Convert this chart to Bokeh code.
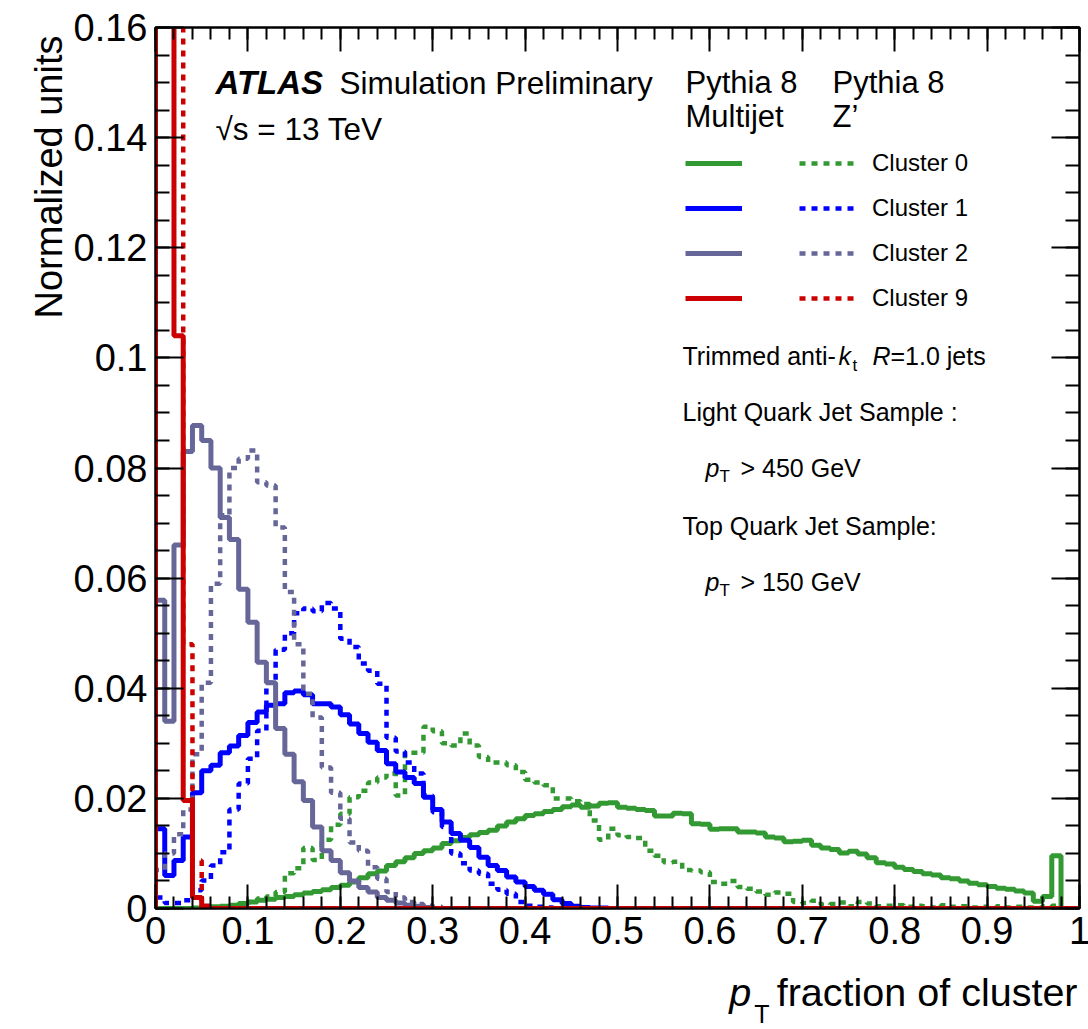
import numpy as np
from bokeh.plotting import figure
from bokeh.layouts import row, column
from bokeh.models import (Label, Legend, LegendItem, LinearAxis, FixedTicker,
                          Range1d)
from bokeh.embed import file_html
from bokeh.resources import INLINE

# 100 bins of width 0.01 in pT fraction
bin_edges = np.round(np.linspace(0.0, 1.0, 101), 4)

# Pythia 8 multijet (solid) and Z' (dotted) samples, normalized per cluster
multijet_cluster0 = [
    0, 0, 0, 0, 0.0001, 0.0002, 0.0003, 0.0004, 0.0006, 0.0009,
    0.0012, 0.0015, 0.0017, 0.0020, 0.0022, 0.0025, 0.0028, 0.0031, 0.0034, 0.0038,
    0.0042, 0.0048, 0.0056, 0.0063, 0.0068, 0.0078, 0.0085, 0.0092, 0.0100, 0.0105,
    0.0110, 0.0118, 0.0123, 0.0129, 0.0134, 0.0138, 0.0142, 0.0150, 0.0157, 0.0163,
    0.0169, 0.0172, 0.0176, 0.0180, 0.0185, 0.0188, 0.0184, 0.0186, 0.0191, 0.0192,
    0.0184, 0.0182, 0.0180, 0.0178, 0.0168, 0.0168, 0.0173, 0.0172, 0.0154, 0.0153,
    0.0144, 0.0145, 0.0145, 0.0139, 0.0139, 0.0137, 0.0130, 0.0128, 0.0121, 0.0122,
    0.0124, 0.0115, 0.0110, 0.0107, 0.0101, 0.0104, 0.0099, 0.0092, 0.0083, 0.0081,
    0.0075, 0.0071, 0.0067, 0.0063, 0.0061, 0.0056, 0.0054, 0.0050, 0.0046, 0.0043,
    0.0040, 0.0037, 0.0035, 0.0032, 0.0028, 0.0013, 0.0022, 0.0096, 0, 0,
]
zprime_cluster0 = [
    0, 0, 0, 0, 0, 0.0001, 0.0002, 0.0003, 0.0005, 0.0008,
    0.0012, 0.0018, 0.0022, 0.0030, 0.0064, 0.0073, 0.0110, 0.0088, 0.0125, 0.0152,
    0.0172, 0.0202, 0.0214, 0.0229, 0.0238, 0.0245, 0.0205, 0.0283, 0.0283, 0.0330,
    0.0322, 0.0300, 0.0296, 0.0318, 0.0296, 0.0275, 0.0265, 0.0265, 0.0260, 0.0248,
    0.0234, 0.0229, 0.0224, 0.0200, 0.0200, 0.0195, 0.0190, 0.0160, 0.0125, 0.0145,
    0.0133, 0.0130, 0.0128, 0.0105, 0.0096, 0.0084, 0.0085, 0.0070, 0.0069, 0.0066,
    0.0048, 0.0045, 0.0050, 0.0039, 0.0036, 0.0031, 0.0025, 0.0029, 0.0027, 0.0012,
    0.0010, 0.0014, 0.0007, 0.0008, 0.0011, 0.0004, 0.0012, 0.0009, 0.0004, 0.0005,
    0.0006, 0.0003, 0.0005, 0.0004, 0.0002, 0.0006, 0.0003, 0.0004, 0.0002, 0.0003,
    0.0002, 0.0004, 0.0002, 0.0003, 0.0002, 0.0002, 0.0004, 0.0005, 0, 0,
]
multijet_cluster1 = [
    0.0145, 0.0060, 0.0087, 0.0130, 0.0210, 0.0250, 0.0260, 0.0283, 0.0295, 0.0314,
    0.0338, 0.0357, 0.0369, 0.0372, 0.0392, 0.0395, 0.0388, 0.0372, 0.0372, 0.0366,
    0.0352, 0.0335, 0.0318, 0.0302, 0.0287, 0.0263, 0.0248, 0.0238, 0.0227, 0.0202,
    0.0180, 0.0157, 0.0136, 0.0124, 0.0111, 0.0093, 0.0078, 0.0069, 0.0057, 0.0048,
    0.0040, 0.0033, 0.0026, 0.0016, 0.0009, 0.0004, 0.0002, 0.0001, 0.0001, 0,
] + [0] * 50
zprime_cluster1 = [
    0.0020, 0.0010, 0.0010, 0.0015, 0.0033, 0.0051, 0.0078, 0.0102, 0.0180, 0.0227,
    0.0272, 0.0323, 0.0410, 0.0470, 0.0500, 0.0536, 0.0545, 0.0540, 0.0555, 0.0545,
    0.0490, 0.0475, 0.0445, 0.0432, 0.0408, 0.0310, 0.0285, 0.0265, 0.0245, 0.0205,
    0.0175, 0.0148, 0.0100, 0.0082, 0.0069, 0.0063, 0.0045, 0.0034, 0.0027, 0.0012,
    0.0005, 0.0003, 0.0002, 0.0001, 0, 0, 0, 0, 0, 0,
] + [0] * 50
multijet_cluster2 = [
    0.0560, 0.0340, 0.0660, 0.0830, 0.0877, 0.0850, 0.0800, 0.0710, 0.0670, 0.0580,
    0.0520, 0.0447, 0.0410, 0.0327, 0.0280, 0.0230, 0.0196, 0.0148, 0.0105, 0.0087,
    0.0065, 0.0050, 0.0038, 0.0030, 0.0020, 0.0015, 0.0010, 0.0006, 0.0004, 0.0002,
] + [0] * 70
zprime_cluster2 = [
    0.0070, 0.0100, 0.0135, 0.0180, 0.0280, 0.0410, 0.0590, 0.0714, 0.0800, 0.0817,
    0.0832, 0.0774, 0.0768, 0.0692, 0.0575, 0.0480, 0.0390, 0.0347, 0.0256, 0.0210,
    0.0163, 0.0120, 0.0105, 0.0075, 0.0054, 0.0030, 0.0020, 0.0012, 0.0008, 0.0005,
    0.0003,
] + [0] * 69
multijet_cluster9 = [0.5200, 0.3540, 0.1040, 0.0196, 0.0020] + [0] * 95
zprime_cluster9 = [0.3500, 0.3000, 0.2930, 0.0480, 0.0087, 0.0005] + [0] * 94

series_colors = ["#339933", "#0000ff", "#666699", "#cc0000"]
cluster_names = ["Cluster 0", "Cluster 1", "Cluster 2", "Cluster 9"]

x_ticks = [0, 0.1, 0.2, 0.3, 0.4, 0.5, 0.6, 0.7, 0.8, 0.9, 1.0]
x_tick_labels = ["0", "0.1", "0.2", "0.3", "0.4", "0.5", "0.6", "0.7", "0.8", "0.9", "1"]
x_minor = [round(0.02 * i, 2) for i in range(51)]
y_ticks = [0, 0.02, 0.04, 0.06, 0.08, 0.1, 0.12, 0.14, 0.16]
y_tick_labels = ["0", "0.02", "0.04", "0.06", "0.08", "0.1", "0.12", "0.14", "0.16"]
y_minor = [round(0.005 * i, 3) for i in range(33)]

FONT = "Liberation Sans"

# page geometry (pixels): a narrow strip on the left for the y title,
# the main plot, and a strip under it for the x title
PAGE_W, PAGE_H = 1088, 1029
LW = 70                          # width of the y-title strip
L, T, W, H = 153, 27, 924, 881   # frame position on the page
MAIN_H = 964


def xd(px):
    return (px - L) / W


def yd(py):
    return 0.16 * (T + H - py) / H


p = figure(width=PAGE_W - LW, height=MAIN_H,
           frame_width=W, frame_height=H,
           min_border_left=L - LW, min_border_right=PAGE_W - L - W,
           min_border_top=T, min_border_bottom=MAIN_H - T - H,
           x_range=Range1d(0, 1), y_range=Range1d(0, 0.16),
           output_backend="svg", toolbar_location=None)
p.background_fill_color = "white"
p.border_fill_color = "white"
p.grid.visible = False
p.outline_line_color = "black"
p.outline_line_width = 2

xticker = FixedTicker(ticks=x_ticks, minor_ticks=x_minor)
yticker = FixedTicker(ticks=y_ticks, minor_ticks=y_minor)


def style_axis(ax, ticker, labels, major_len, minor_len, show_labels):
    ax.ticker = ticker
    ax.axis_line_width = 2
    ax.axis_line_color = "black"
    ax.major_tick_line_color = "black"
    ax.minor_tick_line_color = "black"
    ax.major_tick_line_width = 2
    ax.minor_tick_line_width = 2
    ax.major_tick_in = major_len
    ax.major_tick_out = 0
    ax.minor_tick_in = minor_len
    ax.minor_tick_out = 0
    ax.major_label_overrides = dict(zip(ticker.ticks, labels))
    ax.major_label_text_font = FONT
    if show_labels:
        ax.major_label_text_font_size = "38px"
        ax.major_label_text_color = "black"
        ax.major_label_standoff = 8
    else:
        ax.major_label_text_font_size = "1px"
        ax.major_label_text_color = None
        ax.major_label_standoff = 0


style_axis(p.xaxis[0], xticker, x_tick_labels, 24, 12, True)
style_axis(p.yaxis[0], yticker, y_tick_labels, 28, 14, True)
top_axis = LinearAxis()
style_axis(top_axis, xticker, x_tick_labels, 24, 12, False)
p.add_layout(top_axis, "above")
right_axis = LinearAxis()
style_axis(right_axis, yticker, y_tick_labels, 28, 14, False)
p.add_layout(right_axis, "right")


def outline(vals):
    xs = np.concatenate([[bin_edges[0]], bin_edges])
    ys = np.concatenate([[0.0], np.asarray(vals, dtype=float), [0.0]])
    return xs, ys


multijet = [multijet_cluster0, multijet_cluster1, multijet_cluster2, multijet_cluster9]
zprime = [zprime_cluster0, zprime_cluster1, zprime_cluster2, zprime_cluster9]

solid_r, dotted_r = [], []
for mj, zp, col in zip(multijet, zprime, series_colors):
    xs, ys = outline(mj)
    solid_r.append(p.step(xs, ys, mode="after", line_color=col, line_width=5))
    xs, ys = outline(zp)
    dotted_r.append(p.step(xs, ys, mode="after", line_color=col, line_width=4.5,
                           line_dash="6 6"))

# two-column key: multijet (solid) and Z' (dotted)
ROW_H, ROW_GAP, KEY_TOP = 30, 15, 148
key_h = 4 * ROW_H + 3 * ROW_GAP
key_y = (T + H) - (KEY_TOP + key_h)
common = dict(glyph_width=57, glyph_height=ROW_H, label_height=ROW_H, spacing=ROW_GAP,
              padding=0, margin=0, border_line_alpha=0, background_fill_alpha=0,
              label_text_font=FONT, label_text_font_size="24px",
              label_text_color="black")
leg_solid = Legend(items=[LegendItem(label=" ", renderers=[r]) for r in solid_r],
                   location=(683 - L, key_y), label_standoff=0, **common)
leg_dotted = Legend(items=[LegendItem(label=n, renderers=[r])
                           for n, r in zip(cluster_names, dotted_r)],
                    location=(797 - L, key_y), label_standoff=16, **common)
p.add_layout(leg_solid)
p.add_layout(leg_dotted)


def label(fig, x, y, text, size, style="normal", align="left", angle=0.0):
    fig.add_layout(Label(x=x, y=y, text=text, text_font=FONT,
                         text_font_size=f"{size}px", text_font_style=style,
                         text_align=align, text_baseline="middle", angle=angle,
                         text_color="black"))


def note(px, py, text, size, style="normal"):
    label(p, xd(px), yd(py), text, size, style)


# experiment tag
note(213, 82, "ATLAS", 33, "bold italic")
note(337, 82, "Simulation Preliminary", 31.5)
note(213, 128, "\u221as = 13 TeV", 31.5)

# key headers
note(683, 82, "Pythia 8", 31)
note(830, 82, "Pythia 8", 31)
note(683, 116, "Multijet", 31)
note(830, 116, "Z\u2019", 31)

# selection notes
note(680, 355, "Trimmed anti-", 25)
note(836, 355, "k", 25, "italic")
note(850, 365, "t", 17)
note(870, 355, "R", 25, "italic")
note(888, 355, "=1.0 jets", 25)
note(680, 411, "Light Quark Jet Sample :", 25)
note(703, 467, "p", 25, "italic")
note(717, 476, "T", 17)
note(738, 467, "> 450 GeV", 25)
note(680, 525, "Top Quark Jet Sample:", 25)
note(703, 581, "p", 25, "italic")
note(717, 590, "T", 17)
note(738, 581, "> 150 GeV", 25)


def strip(width, height, x_lo, x_hi, y_top):
    # blank canvas whose data coordinates are page pixels (y grows downward)
    f = figure(width=width, height=height,
               x_range=Range1d(x_lo, x_hi), y_range=Range1d(y_top + height, y_top),
               min_border_left=0, min_border_right=0, min_border_top=0,
               min_border_bottom=0, x_axis_location=None, y_axis_location=None,
               output_backend="svg", toolbar_location=None)
    f.outline_line_color = None
    f.grid.visible = False
    f.background_fill_color = "white"
    f.border_fill_color = "white"
    return f


# y title strip
left_strip = strip(LW, PAGE_H, 0, LW, 0)
label(left_strip, 48, 35, "Normalized units", 38, align="right", angle=np.pi / 2)

# x title strip; its frame lines up with the main frame (page x from L to L+W)
bottom_strip = strip(PAGE_W - LW, PAGE_H - MAIN_H, L, L + W, MAIN_H)
label(bottom_strip, 1077, 991, "fraction of cluster", 39.5, align="right")
label(bottom_strip, 728, 991, "p", 39.5, "italic")
label(bottom_strip, 753, 1013, "T", 25)

layout = row(left_strip, column(p, bottom_strip, spacing=0), spacing=0)

html = file_html(layout, INLINE)
with open("out.html", "w") as f:
    f.write(html)
